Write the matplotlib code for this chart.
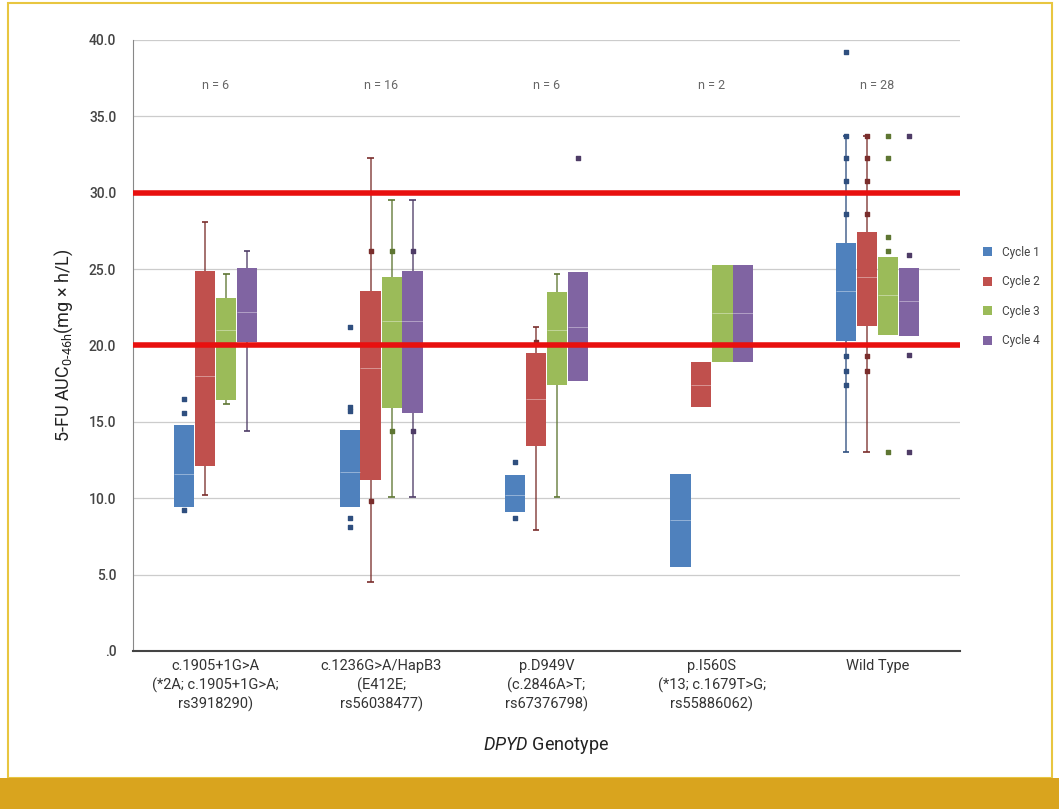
import numpy as np
import matplotlib.pyplot as plt
from matplotlib.patches import Rectangle

plt.rcParams['font.family'] = ['Roboto', 'DejaVu Sans']
plt.rcParams['mathtext.fontset'] = 'custom'
plt.rcParams['mathtext.rm'] = 'Roboto'
plt.rcParams['mathtext.it'] = 'Roboto:italic'

groups = ["c.1905+1G>A\n(*2A; c.1905+1G>A;\nrs3918290)",
          "c.1236G>A/HapB3\n(E412E;\nrs56038477)",
          "p.D949V\n(c.2846A>T;\nrs67376798)",
          "p.I560S\n(*13; c.1679T>G;\nrs55886062)",
          "Wild Type"]
n_labels = ["n = 6", "n = 16", "n = 6", "n = 2", "n = 28"]
cycles = ["Cycle 1", "Cycle 2", "Cycle 3", "Cycle 4"]
colors = ["#4F81BD", "#C0504D", "#9BBB59", "#8064A2"]
dark = ["#2F4F7F", "#7A2E2C", "#5E7632", "#4E3C66"]

nan = np.nan
# box bottom (Q1), median, box top (Q3), whisker ends, single points
c1_q1 = [9.4, 9.4, 9.1, 5.5, 20.3]
c1_med = [11.6, 11.7, 10.2, 8.6, 23.6]
c1_q3 = [14.8, 14.5, 11.5, 11.6, 26.7]
c1_wlo = [nan, nan, nan, nan, 13.0]
c1_whi = [nan, nan, nan, nan, 33.7]
c1_pts = [[15.6, 16.5, 9.2], [16.0, 15.7, 21.2, 8.7, 8.1], [12.4, 8.7], [],
          [39.2, 33.7, 32.3, 30.8, 28.6, 19.3, 18.3, 17.4]]

c2_q1 = [12.1, 11.2, 13.4, 16.0, 21.3]
c2_med = [18.0, 18.5, 16.5, 17.4, 24.5]
c2_q3 = [24.9, 23.6, 19.5, 18.9, 27.4]
c2_wlo = [10.2, 4.5, 7.9, nan, 13.0]
c2_whi = [28.1, 32.3, 21.2, nan, 33.7]
c2_pts = [[], [9.8, 26.2], [20.2], [],
          [33.7, 32.3, 30.8, 28.6, 19.3, 18.3]]

c3_q1 = [16.4, 15.9, 17.4, 18.9, 20.7]
c3_med = [21.0, 21.6, 21.0, 22.1, 23.3]
c3_q3 = [23.1, 24.5, 23.5, 25.3, 25.8]
c3_wlo = [16.2, 10.1, 10.1, nan, nan]
c3_whi = [24.7, 29.5, 24.7, nan, nan]
c3_pts = [[], [14.4, 26.2], [], [], [33.7, 32.3, 27.1, 26.2, 13.0]]

c4_q1 = [20.2, 15.6, 17.7, 18.9, 20.6]
c4_med = [22.2, 21.6, 21.2, 22.1, 22.9]
c4_q3 = [25.1, 24.9, 24.8, 25.3, 25.1]
c4_wlo = [14.4, 10.1, nan, nan, nan]
c4_whi = [26.2, 29.5, nan, nan, nan]
c4_pts = [[], [14.4, 26.2], [32.3], [], [33.7, 25.9, 19.4, 13.0]]

q1s = [c1_q1, c2_q1, c3_q1, c4_q1]
meds = [c1_med, c2_med, c3_med, c4_med]
q3s = [c1_q3, c2_q3, c3_q3, c4_q3]
wlos = [c1_wlo, c2_wlo, c3_wlo, c4_wlo]
whis = [c1_whi, c2_whi, c3_whi, c4_whi]
ptss = [c1_pts, c2_pts, c3_pts, c4_pts]

fig = plt.figure(figsize=(10.59, 8.09), dpi=100)
# frame and bottom band
fig.patches.append(Rectangle((8/1059, 31/809), 1044/1059, 775/809, transform=fig.transFigure,
                             fill=False, edgecolor="#E8C640", lw=1.5))
fig.patches.append(Rectangle((0, 0), 1, 31/809, transform=fig.transFigure,
                             facecolor="#D9A41E", edgecolor="none"))

ax = fig.add_axes([133/1059, 158/809, 827/1059, 611/809])
x = np.arange(len(groups))
width = 0.122
offsets = [-0.19, -0.064, 0.064, 0.19]

for i in range(4):
    xs = x + offsets[i]
    q1 = np.array(q1s[i])
    q3 = np.array(q3s[i])
    # whiskers behind boxes
    for j in range(len(groups)):
        if not np.isnan(wlos[i][j]):
            ax.vlines(xs[j], wlos[i][j], whis[i][j], color=dark[i], lw=1.2, alpha=0.8, zorder=2)
            ax.hlines([wlos[i][j], whis[i][j]], xs[j] - 0.02, xs[j] + 0.02, color=dark[i], lw=1.2, zorder=2)
    ax.bar(xs, q3 - q1, width, bottom=q1, color=colors[i], label=cycles[i], zorder=3)
    ax.hlines(meds[i], xs - width / 2, xs + width / 2, color="white", lw=0.6, alpha=0.45, zorder=4)
    for j in range(len(groups)):
        p = ptss[i][j]
        if p:
            ax.scatter([xs[j]] * len(p), p, marker="s", s=9, color=dark[i], zorder=5)

ax.axhline(20, color="#E8100F", lw=4, zorder=6)
ax.axhline(30, color="#E8100F", lw=4, zorder=6)

for j, lab in enumerate(n_labels):
    ax.text(x[j], 37.0, lab, ha="center", va="center", fontsize=9, color="#666666")

ax.set_xlim(-0.5, 4.5)
ax.set_ylim(0, 40)
ax.set_yticks(np.arange(0, 41, 5))
ax.set_yticklabels([".0"] + ["%.1f" % v for v in np.arange(5, 41, 5)])
ax.yaxis.grid(True, color="#CCCCCC", lw=0.9, zorder=0)
ax.set_axisbelow(True)
ax.set_xticks(x)
ax.set_xticklabels(groups, fontsize=10.5, color="#333333", linespacing=1.35)
ax.tick_params(axis="x", length=0, pad=6)
ax.tick_params(axis="y", length=0, labelsize=10, labelcolor="#444444", pad=12)
for t in ax.get_yticklabels():
    t.set_fontweight("medium")
for s in ["top", "right"]:
    ax.spines[s].set_visible(False)
ax.spines["left"].set_color("#888888")
ax.spines["bottom"].set_color("#444444")
ax.spines["bottom"].set_linewidth(1.5)

ax.set_ylabel("5-FU AUC$_{\\mathrm{0\u201046h}}$(mg \u00d7 h/L)", fontsize=13, color="#222222", labelpad=10)
ax.set_xlabel("$\\it{DPYD}$ Genotype", fontsize=13, color="#222222", labelpad=16)

leg = ax.legend(loc="center left", bbox_to_anchor=(1.015, 0.58), frameon=False,
                fontsize=8.5, handlelength=0.8, handleheight=0.8, labelspacing=1.4)
for t in leg.get_texts():
    t.set_color("#444444")

fig.savefig("out.png", dpi=100)
